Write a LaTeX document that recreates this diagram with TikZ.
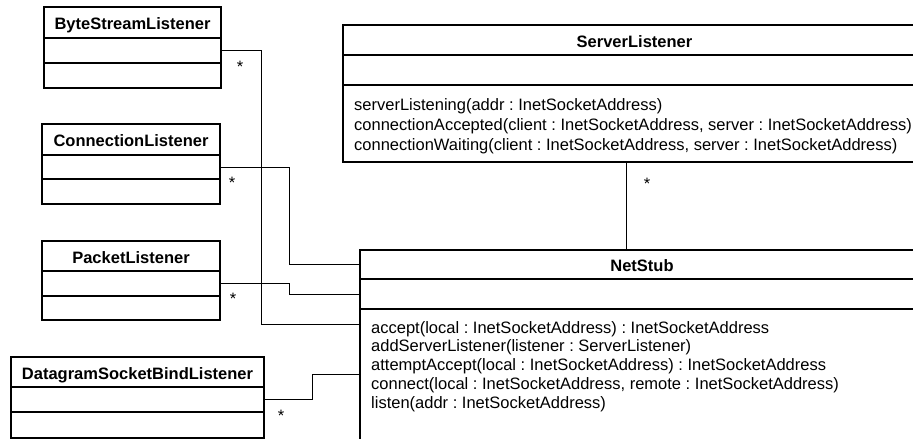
\documentclass[tikz,border=0pt]{standalone}
\usepackage{fontspec}
\setmainfont{Liberation Sans}
\frenchspacing
\begin{document}
\begin{tikzpicture}[x=1pt,y=-1pt,
  ttl/.style={draw, line width=1.2pt, anchor=north west, inner sep=0pt, outer sep=0pt,
    text height=14pt, text depth=0pt, font=\bfseries\fontsize{16.5}{19}\selectfont},
  comp/.style={draw, line width=1.2pt, anchor=north west, inner sep=0pt, outer sep=0pt},
  outer/.style={line width=2.6pt},
  meth/.style={anchor=base west, inner sep=0pt, font=\fontsize{16.5}{19}\selectfont},
  conn/.style={line width=0.8pt},
  mult/.style={anchor=base, inner sep=0pt, font=\fontsize{16.5}{19}\selectfont}]
\useasboundingbox (0,0) rectangle (913,439);
\clip (0,0) rectangle (913,439);

% ---------- classes ----------
% ByteStreamListener
\node[ttl, minimum width=177pt, minimum height=31pt] (bsl) at (44,7) {ByteStreamListener};
\node[comp, minimum width=177pt, minimum height=25pt] (bsla) at (bsl.south west) {};
\node[comp, minimum width=177pt, minimum height=25pt] (bslm) at (bsla.south west) {};
% ConnectionListener
\node[ttl, minimum width=178pt, minimum height=31pt] (cl) at (42,124) {ConnectionListener};
\node[comp, minimum width=178pt, minimum height=24pt] (cla) at (cl.south west) {};
\node[comp, minimum width=178pt, minimum height=25pt] (clm) at (cla.south west) {};
% PacketListener
\node[ttl, minimum width=178pt, minimum height=30pt] (pl) at (42,241) {PacketListener};
\node[comp, minimum width=178pt, minimum height=25pt] (pla) at (pl.south west) {};
\node[comp, minimum width=178pt, minimum height=24pt] (plm) at (pla.south west) {};
% DatagramSocketBindListener
\node[ttl, minimum width=253pt, minimum height=30pt] (dl) at (11,357) {DatagramSocketBindListener};
\node[comp, minimum width=253pt, minimum height=25pt] (dla) at (dl.south west) {};
\node[comp, minimum width=253pt, minimum height=26pt] (dlm) at (dla.south west) {};
% ServerListener
\node[ttl, minimum width=583pt, minimum height=30pt] (sl) at (343,25) {ServerListener};
\node[comp, minimum width=583pt, minimum height=30pt] (sla) at (sl.south west) {};
\node[comp, minimum width=583pt, minimum height=77pt] (slm) at (sla.south west) {};
% NetStub
\node[ttl, minimum width=564pt, minimum height=29pt] (ns) at (360,250) {NetStub};
\node[comp, minimum width=564pt, minimum height=30pt] (nsa) at (ns.south west) {};
\node[comp, minimum width=564pt, minimum height=160pt] (nsm) at (nsa.south west) {};

% ---------- methods ----------
\node[meth] (sl1) at (354,110) {serverListening(addr : InetSocketAddress)};
\node[meth] (sl2) at (354,130) {connectionAccepted(client : InetSocketAddress, server : InetSocketAddress)};
\node[meth] (sl3) at (354,150) {connectionWaiting(client : InetSocketAddress, server : InetSocketAddress)};

\node[meth] (ns1) at (371,333) {accept(local : InetSocketAddress) : InetSocketAddress};
\node[meth] (ns2) at (371,351.75) {addServerListener(listener : ServerListener)};
\node[meth] (ns3) at (371,370.5) {attemptAccept(local : InetSocketAddress) : InetSocketAddress};
\node[meth] (ns4) at (371,389.25) {connect(local : InetSocketAddress, remote : InetSocketAddress)};
\node[meth] (ns5) at (371,408) {listen(addr : InetSocketAddress)};

% ---------- connectors ----------
\coordinate (j1) at (261,324);
\coordinate (j2) at (289,0);
\coordinate (j4) at (312,374);
\coordinate (j5) at (626,0);
\draw[conn] (bsla.east) -| (j1) -- (j1 -| nsm.west);
\draw[conn] (cla.east) -| (j2 |- ns.west) -- (ns.west);
\draw[conn] (pla.east) -| (j2 |- nsa.west) -- (nsa.west);
\draw[conn] (dla.east) -| (j4) -- (j4 -| nsm.west);
\draw[conn] (j5 |- slm.south) -- (j5 |- ns.north);

% ---------- multiplicities ----------
\node[mult] (m1) at (240,72.7) {*};
\node[mult] (m2) at (232,188.7) {*};
\node[mult] (m3) at (233,304.7) {*};
\node[mult] (m4) at (281,421.7) {*};
\node[mult] (m5) at (647,189.7) {*};

% ---------- outer borders ----------
\draw[outer] (bsl.north west) rectangle (bslm.south east);
\draw[outer] (cl.north west) rectangle (clm.south east);
\draw[outer] (pl.north west) rectangle (plm.south east);
\draw[outer] (dl.north west) rectangle (dlm.south east);
\draw[outer] (sl.north west) rectangle (slm.south east);
\draw[outer] (ns.north west) rectangle (nsm.south east);
\end{tikzpicture}
\end{document}
